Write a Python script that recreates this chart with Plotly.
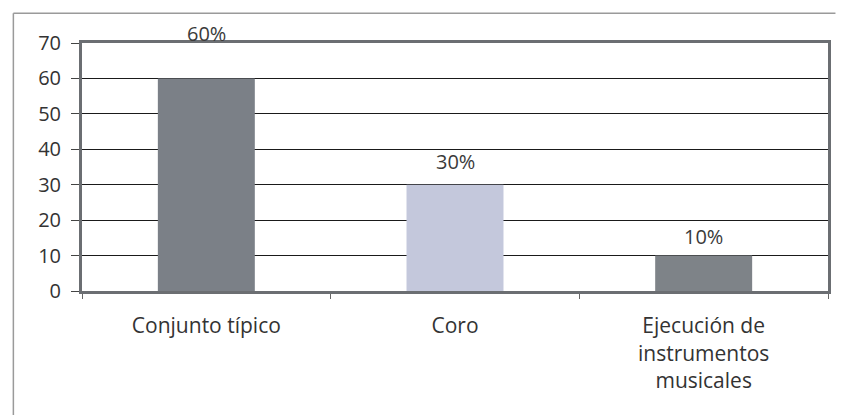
import plotly.graph_objects as go

categories = ["Conjunto típico", "Coro", "Ejecución de<br>instrumentos<br>musicales"]
values = [60, 30, 10]
labels = ["60%", "30%", "10%"]
bar_colors = ["#7b8087", "#c4c8dc", "#7e8388"]
label_shift = [45, 23, 19]

fig = go.Figure()
fig.add_trace(go.Bar(
    x=categories, y=values, marker=dict(color=bar_colors, line=dict(width=0)),
    width=0.39, showlegend=False,
))
for c, v, t, s in zip(categories, values, labels, label_shift):
    fig.add_annotation(x=c, y=v, text=t, showarrow=False, yshift=s,
                       font=dict(size=20, color="#3a3a3a", family="Open Sans"))

fig.update_layout(
    width=849, height=415,
    margin=dict(l=82, r=21, t=43, b=124),
    paper_bgcolor="white", plot_bgcolor="white",
    font=dict(family="Open Sans", size=20, color="#333333"),
    bargap=0.61,
)
fig.update_yaxes(range=[0, 70], dtick=10, showgrid=True, gridcolor="#1a1a1a", gridwidth=1.3,
                 showline=True, linecolor="#6b6e72", linewidth=3, mirror=True,
                 ticks="outside", ticklen=8, tickcolor="#444444", zeroline=False,
                 tickfont=dict(size=20), ticklabelstandoff=6)
fig.update_xaxes(showline=True, linecolor="#6b6e72", linewidth=3, mirror=True,
                 ticks="outside", tickson="boundaries", ticklen=5, tickcolor="#666666",
                 tickfont=dict(size=21), ticklabelstandoff=14)
# outer chart frame
fig.add_shape(type="line", xref="paper", yref="paper", x0=-0.092, x1=-0.092, y0=-0.52, y1=1.12,
              line=dict(color="#9a9a9a", width=1.5))
fig.add_shape(type="line", xref="paper", yref="paper", x0=-0.092, x1=1.01, y0=1.12, y1=1.12,
              line=dict(color="#9a9a9a", width=1.5))
fig.write_html("out.html")
